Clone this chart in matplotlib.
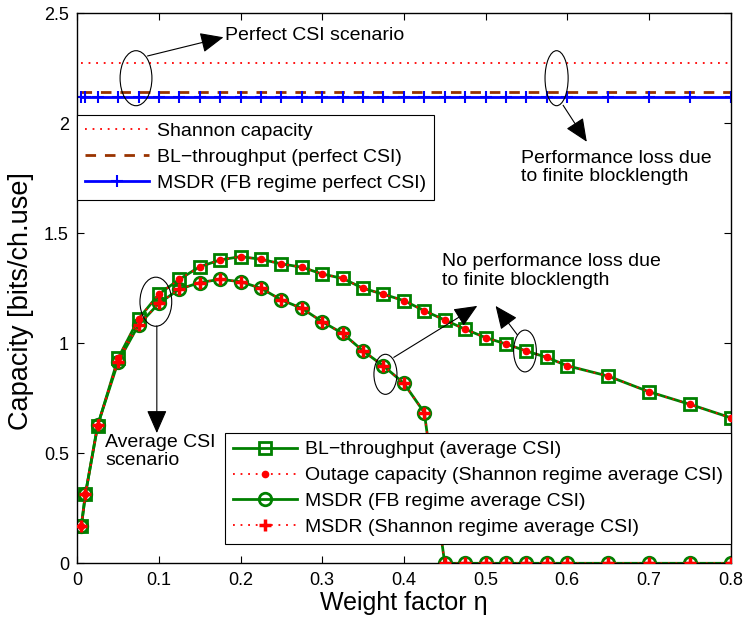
import matplotlib
matplotlib.use('Agg')
import matplotlib.pyplot as plt
from matplotlib.patches import Ellipse

plt.rcParams['font.family'] = ['Liberation Sans', 'DejaVu Sans']

# weight factor grid
eta = [0.005, 0.01, 0.025, 0.05, 0.075, 0.1, 0.125, 0.15, 0.175, 0.2,
       0.225, 0.25, 0.275, 0.3, 0.325, 0.35, 0.375, 0.4, 0.425, 0.45,
       0.475, 0.5, 0.525, 0.55, 0.575, 0.6, 0.65, 0.7, 0.75, 0.8]

# perfect CSI (flat lines)
shannon_perfect = [2.273] * 30
bl_perfect = [2.141] * 30
msdr_perfect = [2.118] * 30

# average CSI
bl_avg = [0.171, 0.315, 0.626, 0.932, 1.111, 1.224, 1.291, 1.348, 1.379, 1.394,
          1.382, 1.361, 1.346, 1.315, 1.295, 1.250, 1.223, 1.194, 1.148, 1.106,
          1.064, 1.026, 0.997, 0.965, 0.936, 0.898, 0.851, 0.780, 0.723, 0.662]
outage_avg = [0.171, 0.315, 0.626, 0.932, 1.111, 1.224, 1.291, 1.348, 1.379, 1.394,
              1.382, 1.361, 1.346, 1.315, 1.295, 1.250, 1.223, 1.194, 1.148, 1.106,
              1.064, 1.026, 0.997, 0.965, 0.936, 0.898, 0.851, 0.780, 0.723, 0.662]
msdr_fb_avg = [0.171, 0.316, 0.629, 0.916, 1.083, 1.182, 1.246, 1.276, 1.291, 1.280,
               1.250, 1.197, 1.159, 1.098, 1.045, 0.965, 0.897, 0.818, 0.685, 0.0,
               0.0, 0.0, 0.0, 0.0, 0.0, 0.0, 0.0, 0.0, 0.0, 0.0]
msdr_sh_avg = [0.171, 0.316, 0.629, 0.916, 1.083, 1.182, 1.246, 1.276, 1.291, 1.280,
               1.250, 1.197, 1.159, 1.098, 1.045, 0.965, 0.897, 0.818, 0.685, 0.0,
               0.0, 0.0, 0.0, 0.0, 0.0, 0.0, 0.0, 0.0, 0.0, 0.0]

green = '#008000'
red = '#ff0000'
brown = '#993300'
fs = 13
lfs = 14

fig = plt.figure(figsize=(7.43, 6.2), dpi=100)
ax = fig.add_axes([77.3 / 743, 1 - 563.3 / 620, (730.5 - 77.3) / 743, 550 / 620])

# perfect CSI lines
l1, = ax.plot(eta, shannon_perfect, color=red, lw=1.3, dashes=(1, 3.2),
              label='Shannon capacity')
l2, = ax.plot(eta, bl_perfect, color=brown, lw=2, dashes=(3.8, 3.2),
              label='BL\u2212throughput (perfect CSI)')
l3, = ax.plot(eta, msdr_perfect, color='#0000ff', lw=2, marker='+', ms=9, mew=1.5,
              label='MSDR (FB regime perfect CSI)')

# average CSI curves
a1, = ax.plot(eta, bl_avg, color=green, lw=2, marker='s', ms=9, mfc='none', mew=2,
              label='BL\u2212throughput (average CSI)')
a2, = ax.plot(eta, outage_avg, color=red, lw=1.3, dashes=(1, 3.2), marker='.', ms=9,
              label='Outage capacity (Shannon regime average CSI)')
a3, = ax.plot(eta, msdr_fb_avg, color=green, lw=2, marker='o', ms=9, mfc='none', mew=2,
              label='MSDR (FB regime average CSI)')
a4, = ax.plot(eta, msdr_sh_avg, color=red, lw=1.3, dashes=(1, 3.2), marker='+', ms=9, mew=2.5,
              label='MSDR (Shannon regime average CSI)')
for ln in (a2, a4):
    ln.set_zorder(3)

ax.set_xlim(0, 0.8)
ax.set_ylim(0, 2.5)
ax.set_xticks([0, 0.1, 0.2, 0.3, 0.4, 0.5, 0.6, 0.7, 0.8])
ax.set_xticklabels(['0', '0.1', '0.2', '0.3', '0.4', '0.5', '0.6', '0.7', '0.8'])
ax.set_yticks([0, 0.5, 1, 1.5, 2, 2.5])
ax.set_yticklabels(['0', '0.5', '1', '1.5', '2', '2.5'])
ax.tick_params(direction='in', top=True, right=True, length=5, width=0.8,
               labelsize=fs, pad=6)
for s in ax.spines.values():
    s.set_linewidth(1.0)

ax.set_xlabel('Weight factor \u03b7', fontsize=18, labelpad=2)
ax.set_ylabel('Capacity [bits/ch.use]', fontsize=19.5)
ax.yaxis.set_label_coords(-0.066, 0.477)

leg_kw = dict(borderaxespad=0, fancybox=False, framealpha=1, edgecolor='k',
              fontsize=lfs, handlelength=3.3, handletextpad=0.38,
              labelspacing=0.43, borderpad=0.4)
leg1 = ax.legend(handles=[l1, l2, l3], loc='upper left', bbox_to_anchor=(0, 0.816), **leg_kw)
leg1.get_frame().set_linewidth(0.8)
ax.add_artist(leg1)
leg2 = ax.legend(handles=[a1, a2, a3, a4], loc='lower right', bbox_to_anchor=(1, 0.035), **leg_kw)
leg2.get_frame().set_linewidth(0.8)

# annotations
arrow = dict(arrowstyle='-|>,head_length=0.8,head_width=0.35', color='k', lw=0.8,
             mutation_scale=18, shrinkA=0, shrinkB=0)
for (cx, cy, w, h) in [(0.0719, 2.205, 0.039, 0.25), (0.587, 2.205, 0.0283, 0.25),
                       (0.0962, 1.189, 0.0389, 0.223), (0.3774, 0.859, 0.0282, 0.182),
                       (0.5483, 0.965, 0.0278, 0.19)]:
    ax.add_patch(Ellipse((cx, cy), w, h, fill=False, ec='k', lw=0.8, zorder=5))

ax.annotate('', xy=(0.179, 2.391), xytext=(0.086, 2.306), arrowprops=arrow)
ax.text(0.181, 2.401, 'Perfect CSI scenario', fontsize=lfs, va='center', ha='left')
ax.annotate('', xy=(0.624, 1.916), xytext=(0.595, 2.082), arrowprops=arrow)
ax.text(0.544, 1.80, 'Performance loss due\nto finite blocklength', fontsize=lfs,
        va='center', ha='left', linespacing=1.1)
ax.annotate('', xy=(0.0974, 0.592), xytext=(0.0974, 1.079), arrowprops=arrow)
ax.text(0.034, 0.507, 'Average CSI\nscenario', fontsize=lfs, va='center', ha='left',
        linespacing=1.1)
ax.annotate('', xy=(0.4899, 1.17), xytext=(0.3876, 0.936), arrowprops=arrow)
ax.annotate('', xy=(0.5123, 1.17), xytext=(0.539, 1.038), arrowprops=arrow)
ax.text(0.447, 1.329, 'No performance loss due\nto finite blocklength', fontsize=lfs,
        va='center', ha='left', linespacing=1.1)

plt.savefig('out.png', dpi=100)
